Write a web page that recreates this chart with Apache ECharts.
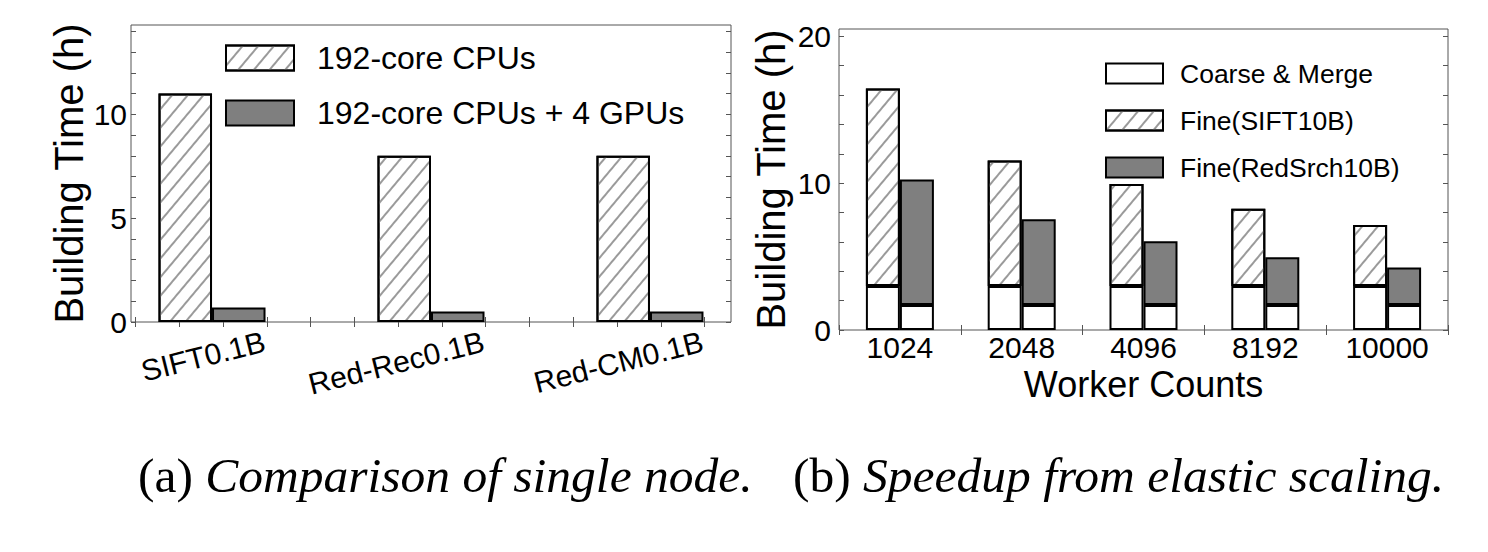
<!DOCTYPE html>
<html>
<head>
<meta charset="utf-8">
<script src="https://cdn.jsdelivr.net/npm/echarts@6/dist/echarts.min.js"></script>
<style>
  html, body { margin: 0; padding: 0; background: #fff; }
  #main { width: 1488px; height: 552px; }
</style>
</head>
<body>
<div id="main"></div>
<script>
// (a) single node
var nodeCats = ['SIFT0.1B', 'Red-Rec0.1B', 'Red-CM0.1B'];
var cpuTime = [11, 8, 8];
var gpuTime = [0.7, 0.5, 0.5];
var nodeYLabels = [0, 5, 10];
var nodeYTicks = [0, 1, 2, 3, 4, 5, 6, 7, 8, 9, 10, 11, 12, 13, 14];
var nodeXTicks = [0.65, 0.85, 1.05, 1.25, 1.45, 1.65, 1.85, 2.05, 2.25, 2.45, 2.65, 2.85, 3.05, 3.25];

// (b) elastic scaling
var workerCats = ['1024', '2048', '4096', '8192', '10000'];
var coarseSift = [3, 3, 3, 3, 3];
var fineSift = [13.45, 8.55, 6.95, 5.25, 4.15];
var coarseRed = [1.7, 1.7, 1.7, 1.7, 1.7];
var fineRed = [8.55, 5.85, 4.35, 3.25, 2.55];
var scaleYLabels = [0, 10, 20];
var scaleYTicks = [0, 2, 4, 6, 8, 10, 12, 14, 16, 18, 20];

var sans = 'Liberation Sans';
var serif = 'Liberation Serif';
var labelShift = 0.24; // rotated labels end a bit right of the group centre

var hatch = {
    symbol: 'rect',
    symbolSize: 1,
    dashArrayX: [1, 0],
    dashArrayY: [1.1, 9.5],
    rotation: -Math.PI * 50 / 180,
    color: '#9a9a9a'
};
var tickStyle = {show: true, inside: true, length: 5, lineStyle: {color: '#555', width: 1}};
var captionRich = {
    r: {fontFamily: serif, fontSize: 49.5, fontWeight: 'normal', color: '#000'},
    i: {fontFamily: serif, fontSize: 49.5, fontWeight: 'normal', fontStyle: 'italic', color: '#000'}
};

var chart = echarts.init(document.getElementById('main'), null, {renderer: 'svg'});

var option = {
    animation: false,
    backgroundColor: '#fff',
    title: [
        {
            text: '{r|(a) }{i|Comparison of single node.}',
            left: 133, top: 445,
            textStyle: {fontWeight: 'normal', rich: captionRich}
        },
        {
            text: '{r|(b) }{i|Speedup from elastic scaling.}',
            left: 788, top: 445,
            textStyle: {fontWeight: 'normal', rich: captionRich}
        }
    ],
    legend: [
        {
            left: 220, top: 37, orient: 'vertical', icon: 'rect',
            itemWidth: 68, itemHeight: 25, itemGap: 23,
            data: ['192-core CPUs', '192-core CPUs + 4 GPUs'],
            textStyle: {fontFamily: sans, fontSize: 32, color: '#000', padding: [0, 0, 0, 18]}
        },
        {
            left: 1100, top: 55, orient: 'vertical', icon: 'rect',
            itemWidth: 57, itemHeight: 20, itemGap: 20,
            data: ['Coarse & Merge', 'Fine(SIFT10B)', 'Fine(RedSrch10B)'],
            textStyle: {fontFamily: sans, fontSize: 26.5, color: '#000', padding: [0, 0, 0, 12]}
        }
    ],
    grid: [
        {left: 131, top: 25, width: 600, height: 297, show: true, borderColor: '#555', borderWidth: 1},
        {left: 839, top: 29, width: 609, height: 301, show: true, borderColor: '#555', borderWidth: 1}
    ],
    xAxis: [
        {
            gridIndex: 0, type: 'value', min: 0.63, max: 3.37, position: 'bottom',
            axisLine: {show: false},
            splitLine: {show: false},
            axisTick: Object.assign({customValues: nodeXTicks}, tickStyle),
            axisLabel: {
                customValues: [1 + labelShift, 2 + labelShift, 3 + labelShift],
                formatter: function (v) { return nodeCats[Math.round(v - labelShift) - 1]; },
                rotate: 14, margin: 19,
                fontFamily: sans, fontSize: 30, color: '#000'
            }
        },
        {
            gridIndex: 0, type: 'value', min: 0.63, max: 3.37, position: 'top',
            axisLine: {show: false}, splitLine: {show: false}, axisLabel: {show: false},
            axisTick: Object.assign({customValues: nodeXTicks}, tickStyle)
        },
        {
            gridIndex: 1, type: 'category', data: workerCats, position: 'bottom',
            axisLine: {show: false},
            axisTick: tickStyle,
            axisLabel: {fontFamily: sans, fontSize: 30, color: '#000', margin: 2},
            name: 'Worker Counts', nameLocation: 'middle', nameGap: 32,
            nameTextStyle: {fontFamily: sans, fontSize: 36, color: '#000'}
        },
        {
            gridIndex: 1, type: 'category', data: workerCats, position: 'top',
            axisLine: {show: false}, axisLabel: {show: false},
            axisTick: tickStyle
        }
    ],
    yAxis: [
        {
            gridIndex: 0, type: 'value', min: 0, max: 14.3, position: 'left',
            axisLine: {show: false}, splitLine: {show: false},
            axisTick: Object.assign({customValues: nodeYTicks}, tickStyle),
            axisLabel: {customValues: nodeYLabels, fontFamily: sans, fontSize: 30, color: '#000', margin: 4},
            name: 'Building Time (h)', nameLocation: 'middle', nameGap: 42,
            nameTextStyle: {fontFamily: sans, fontSize: 40, color: '#000'}
        },
        {
            gridIndex: 0, type: 'value', min: 0, max: 14.3, position: 'right',
            axisLine: {show: false}, splitLine: {show: false}, axisLabel: {show: false},
            axisTick: Object.assign({customValues: nodeYTicks}, tickStyle)
        },
        {
            gridIndex: 1, type: 'value', min: 0, max: 20.5, position: 'left',
            axisLine: {show: false}, splitLine: {show: false},
            axisTick: Object.assign({customValues: scaleYTicks}, tickStyle),
            axisLabel: {customValues: scaleYLabels, fontFamily: sans, fontSize: 30, color: '#000', margin: 8},
            name: 'Building Time (h)', nameLocation: 'middle', nameGap: 48,
            nameTextStyle: {fontFamily: sans, fontSize: 40, color: '#000'}
        },
        {
            gridIndex: 1, type: 'value', min: 0, max: 20.5, position: 'right',
            axisLine: {show: false}, splitLine: {show: false}, axisLabel: {show: false},
            axisTick: Object.assign({customValues: scaleYTicks}, tickStyle)
        }
    ],
    series: [
        {
            name: '192-core CPUs', type: 'bar', xAxisIndex: 0, yAxisIndex: 0,
            barWidth: 53.5, barGap: '0%',
            data: cpuTime.map(function (v, i) { return [i + 1, v]; }),
            itemStyle: {color: '#fff', borderColor: '#000', borderWidth: 2, decal: hatch}
        },
        {
            name: '192-core CPUs + 4 GPUs', type: 'bar', xAxisIndex: 0, yAxisIndex: 0,
            barWidth: 53.5, barGap: '0%',
            data: gpuTime.map(function (v, i) { return [i + 1, v]; }),
            itemStyle: {color: '#7f7f7f', borderColor: '#000', borderWidth: 2}
        },
        {
            name: 'Coarse & Merge', type: 'bar', stack: 'sift', xAxisIndex: 2, yAxisIndex: 2,
            barWidth: 34, barGap: '0%', data: coarseSift,
            itemStyle: {color: '#fff', borderColor: '#000', borderWidth: 2}
        },
        {
            name: 'Fine(SIFT10B)', type: 'bar', stack: 'sift', xAxisIndex: 2, yAxisIndex: 2,
            barWidth: 34, barGap: '0%', data: fineSift,
            itemStyle: {color: '#fff', borderColor: '#000', borderWidth: 2, decal: hatch}
        },
        {
            name: 'Coarse & Merge', type: 'bar', stack: 'red', xAxisIndex: 2, yAxisIndex: 2,
            barWidth: 34, barGap: '0%', data: coarseRed,
            itemStyle: {color: '#fff', borderColor: '#000', borderWidth: 2}
        },
        {
            name: 'Fine(RedSrch10B)', type: 'bar', stack: 'red', xAxisIndex: 2, yAxisIndex: 2,
            barWidth: 34, barGap: '0%', data: fineRed,
            itemStyle: {color: '#7f7f7f', borderColor: '#000', borderWidth: 2}
        }
    ]
};

chart.setOption(option);
</script>
</body>
</html>
